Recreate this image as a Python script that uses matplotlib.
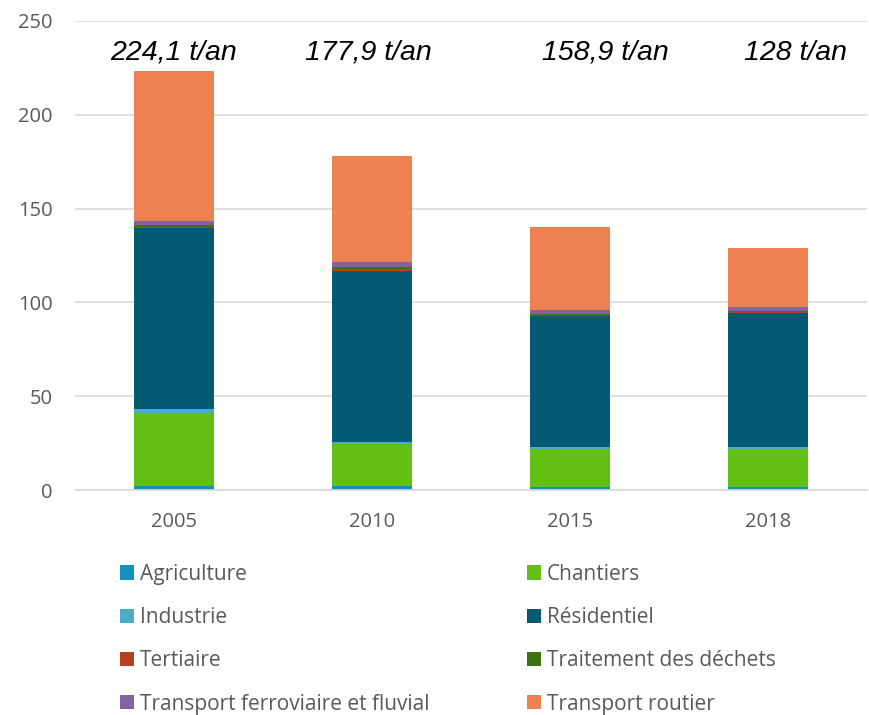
import matplotlib
matplotlib.use("Agg")
import matplotlib.pyplot as plt
import numpy as np

years = ["2005", "2010", "2015", "2018"]
categories = ["Agriculture", "Chantiers", "Industrie", "Résidentiel", "Tertiaire",
              "Traitement des déchets", "Transport ferroviaire et fluvial", "Transport routier"]
agriculture = [2.1, 2.3, 1.8, 1.8]
chantiers = [39.0, 22.1, 19.9, 19.9]
industrie = [2.3, 1.2, 1.2, 1.2]
residentiel = [96.0, 91.3, 70.0, 71.6]
tertiaire = [0.8, 0.7, 0.5, 0.5]
dechets = [1.2, 1.4, 0.4, 0.4]
ferroviaire = [2.1, 2.5, 2.3, 2.1]
routier = [79.8, 56.4, 43.9, 31.3]
total_labels = ["224,1 t/an", "177,9 t/an", "158,9 t/an", "128 t/an"]

series = [agriculture, chantiers, industrie, residentiel, tertiaire, dechets, ferroviaire, routier]
colors = ["#1192C1", "#62BF13", "#4BACC6", "#045A73", "#B5421A", "#3A7310", "#8064A2", "#EE8152"]

label_offsets = [0.0, -0.02, 0.18, 0.14]

fig = plt.figure(figsize=(8.7, 7.15), dpi=100)
ax = fig.add_axes([75/870, 1-490/715, 792/870, 469/715])

x = np.arange(len(years))
bottom = np.zeros(len(years))
handles = []
for vals, c, name in zip(series, colors, categories):
    b = ax.bar(x, vals, width=0.40, bottom=bottom, color=c, label=name, linewidth=0)
    handles.append(b)
    bottom += np.array(vals)

ax.set_xlim(-0.5, 3.5)
ax.set_ylim(0, 250)
ax.set_yticks([0, 50, 100, 150, 200, 250])
ax.set_xticks(x)
ax.set_xticklabels(years)
ax.yaxis.grid(True, color="#D9D9D9", linewidth=1.2)
ax.set_axisbelow(True)
for s in ["top", "right", "left"]:
    ax.spines[s].set_visible(False)
ax.spines["bottom"].set_color("#D9D9D9")
ax.spines["bottom"].set_linewidth(1.2)
ax.tick_params(axis="both", length=0, labelsize=14.5, labelcolor="#595959")
for lab in ax.get_xticklabels() + ax.get_yticklabels():
    lab.set_family("Open Sans")
ax.tick_params(axis="x", pad=16)
ax.tick_params(axis="y", pad=16)

for i, t in enumerate(total_labels):
    ax.text(x[i] + label_offsets[i], 233, t, ha="center", va="center",
            fontsize=20.5, style="italic", family="Liberation Sans", color="black")

order = [0, 2, 4, 6, 1, 3, 5, 7]
leg = fig.legend([handles[i] for i in order], [categories[i] for i in order],
                 ncol=2, loc="upper left", bbox_to_anchor=(101/870, 1-545/715),
                 frameon=False, prop={"family": "Open Sans", "size": 15},
                 handlelength=0.68, handleheight=0.68, handletextpad=0.3,
                 columnspacing=4.65, labelspacing=1.07, labelcolor="#595959")

fig.savefig("out.png", dpi=100)
